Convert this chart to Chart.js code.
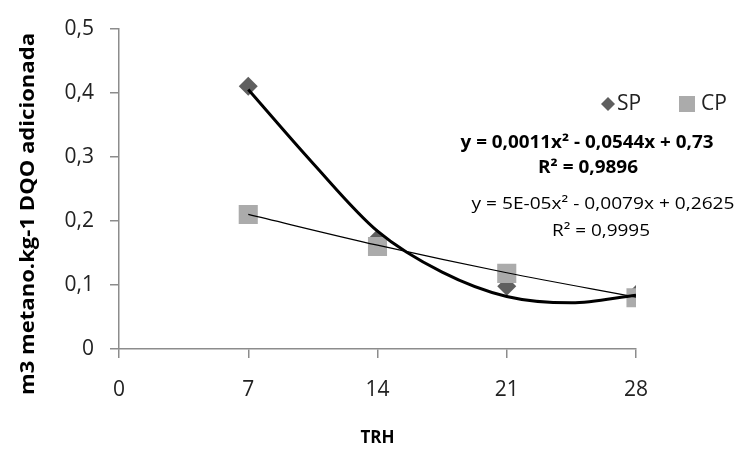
<!DOCTYPE html>
<html>
<head>
<meta charset="utf-8">
<script src="https://cdn.jsdelivr.net/npm/chart.js@4/dist/chart.umd.min.js"></script>
<style>
  body { margin: 0; background: #fff; }
  #wrap { width: 736px; height: 452px; }
</style>
</head>
<body>
<div id="wrap"><canvas id="metanoChart" width="736" height="452"></canvas></div>
<script>
// dados
const trh = [7, 14, 21, 28];
const spValores = [0.41, 0.172, 0.098, 0.085];
const cpValores = [0.21, 0.16, 0.118, 0.08];

// linhas de tendencia
const spTendX = [7, 10.5, 14, 17.5, 21, 24.5, 28];
const spTendY = [0.405, 0.29, 0.184, 0.12, 0.082, 0.072, 0.084];
const cpTendX = [7, 14, 21, 28];
const cpTendY = [0.21, 0.162, 0.119, 0.081];

const xTicks = [0, 7, 14, 21, 28];
const yTicks = [0, 0.1, 0.2, 0.3, 0.4, 0.5];

const eqSP = ['y = 0,0011x² - 0,0544x + 0,73', 'R² = 0,9896'];
const eqCP = ['y = 5E-05x² - 0,0079x + 0,2625', 'R² = 0,9995'];

const FONTE = '"Open Sans", Lato, sans-serif';
const CINZA_EIXO = '#8c8c8c';
const COR_SP = '#5f5f5f';
const COR_CP = '#ababab';

function pares(xs, ys) {
    return xs.map((x, i) => ({ x: x, y: ys[i] }));
}

// escreve o texto esticado ate a largura desejada
function textoLargura(ctx, texto, x, y, largura) {
    const w = ctx.measureText(texto).width;
    ctx.save();
    ctx.translate(x, y);
    ctx.scale(largura / w, 1);
    ctx.fillText(texto, 0, 0);
    ctx.restore();
}

// textos extras: titulo do eixo y, legenda e equacoes
const textosPlugin = {
    id: 'textos',
    afterDraw(chart) {
        const ctx = chart.ctx;
        ctx.save();
        ctx.fillStyle = '#000';
        ctx.textAlign = 'center';
        ctx.textBaseline = 'middle';

        // titulo eixo y
        ctx.save();
        ctx.translate(29, 214);
        ctx.rotate(-Math.PI / 2);
        ctx.font = 'bold 19px ' + FONTE;
        textoLargura(ctx, 'm3 metano.kg-1 DQO adicionada', 0, 0, 362);
        ctx.restore();

        // legenda
        ctx.fillStyle = COR_SP;
        ctx.beginPath();
        ctx.moveTo(608, 97); ctx.lineTo(615, 104); ctx.lineTo(608, 111); ctx.lineTo(601, 104);
        ctx.closePath();
        ctx.fill();
        ctx.fillStyle = COR_CP;
        ctx.fillRect(679, 96, 16, 16);
        ctx.fillStyle = '#222';
        ctx.font = '21px ' + FONTE;
        ctx.textAlign = 'left';
        ctx.fillText('SP', 617, 104);
        ctx.fillText('CP', 701, 104);

        // equacoes
        ctx.fillStyle = '#000';
        ctx.textAlign = 'center';
        ctx.font = 'bold 17px ' + FONTE;
        textoLargura(ctx, eqSP[0], 587, 143, 253);
        textoLargura(ctx, eqSP[1], 588, 168, 100);
        ctx.font = '17px ' + FONTE;
        textoLargura(ctx, eqCP[0], 603, 204, 263);
        textoLargura(ctx, eqCP[1], 601, 231, 98);
        ctx.restore();
    }
};

document.addEventListener('DOMContentLoaded', function() {
    const ctx = document.getElementById('metanoChart').getContext('2d');
    new Chart(ctx, {
        type: 'scatter',
        data: {
            datasets: [
                {
                    label: 'Tendencia SP',
                    data: pares(spTendX, spTendY),
                    showLine: true,
                    borderColor: '#000',
                    borderWidth: 3,
                    pointRadius: 0,
                    cubicInterpolationMode: 'monotone',
                    order: 0
                },
                {
                    label: 'Tendencia CP',
                    data: pares(cpTendX, cpTendY),
                    showLine: true,
                    borderColor: '#000',
                    borderWidth: 1.2,
                    pointRadius: 0,
                    cubicInterpolationMode: 'monotone',
                    order: 1
                },
                {
                    label: 'CP',
                    data: pares(trh, cpValores),
                    pointStyle: 'rect',
                    pointRadius: 13.5,
                    backgroundColor: COR_CP,
                    borderWidth: 0,
                    order: 2
                },
                {
                    label: 'SP',
                    data: pares(trh, spValores),
                    pointStyle: 'rectRot',
                    pointRadius: 9.5,
                    backgroundColor: COR_SP,
                    borderWidth: 0,
                    order: 3
                }
            ]
        },
        options: {
            responsive: false,
            animation: false,
            events: [],
            layout: { padding: { left: 0, right: 100, top: 22, bottom: 0 } },
            plugins: {
                legend: { display: false },
                tooltip: { enabled: false }
            },
            scales: {
                x: {
                    type: 'linear',
                    min: 0,
                    max: 28,
                    afterBuildTicks: s => { s.ticks = xTicks.map(v => ({ value: v })); },
                    afterFit: s => { s.height = 103; },
                    border: { color: CINZA_EIXO, width: 1.5 },
                    grid: { drawOnChartArea: false, color: CINZA_EIXO, tickLength: 9, lineWidth: 1.5 },
                    ticks: {
                        color: '#222',
                        font: { family: FONTE, size: 21 },
                        padding: 19,
                        maxRotation: 0
                    },
                    title: {
                        display: true,
                        text: 'TRH',
                        color: '#000',
                        font: { family: FONTE, size: 17, weight: 'bold' },
                        padding: { top: 0, bottom: 4 }
                    }
                },
                y: {
                    type: 'linear',
                    min: 0,
                    max: 0.5,
                    afterBuildTicks: s => { s.ticks = yTicks.map(v => ({ value: v })); },
                    afterFit: s => { s.width = 119; },
                    border: { color: CINZA_EIXO, width: 1.5 },
                    grid: { drawOnChartArea: false, color: CINZA_EIXO, tickLength: 9, lineWidth: 1.5 },
                    ticks: {
                        color: '#222',
                        font: { family: FONTE, size: 21 },
                        padding: 16,
                        callback: v => String(v).replace('.', ',')
                    }
                }
            }
        },
        plugins: [textosPlugin]
    });
});
</script>
</body>
</html>
